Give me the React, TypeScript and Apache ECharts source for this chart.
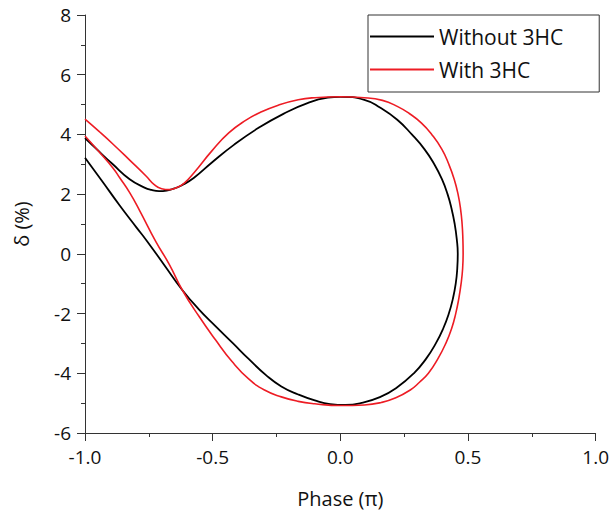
import React, { useEffect, useRef } from "react";
import * as echarts from "echarts";

const xTicks = [-1.0, -0.5, 0.0, 0.5, 1.0];
const yTicks = [-6, -4, -2, 0, 2, 4, 6, 8];
const seriesNames = ["Without 3HC", "With 3HC"];

// Without 3HC: upper-left branch -> top -> right -> bottom -> lower-left branch
const withoutPhase = [
  -1.0, -0.945, -0.891, -0.825, -0.767, -0.74, -0.71, -0.68, -0.65, -0.62, -0.573, -0.503, -0.417, -0.32, -0.223,
  -0.126, -0.049, 0.0, 0.094, 0.157, 0.223, 0.28, 0.33, 0.368, 0.398, 0.42, 0.436, 0.448, 0.456, 0.46, 0.458, 0.452,
  0.441, 0.425, 0.403, 0.374, 0.337, 0.288, 0.218, 0.155, 0.08, 0.02, -0.04, -0.1, -0.165, -0.231, -0.29, -0.359,
  -0.42, -0.489, -0.555, -0.619, -0.689, -0.759, -0.798, -0.864, -0.934, -1.0,
];
const withoutDelta = [
  3.88, 3.43, 3.0, 2.5, 2.22, 2.14, 2.1, 2.12, 2.19, 2.3, 2.55, 3.06, 3.65, 4.22, 4.69,
  5.06, 5.23, 5.26, 5.16, 4.89, 4.49, 4.0, 3.5, 3.0, 2.5, 2.0, 1.5, 1.0, 0.5, 0.0, -0.5, -1.0,
  -1.5, -2.0, -2.5, -3.0, -3.5, -4.0, -4.5, -4.8, -5.0, -5.06, -5.03, -4.91, -4.71, -4.44, -4.07, -3.52,
  -3.0, -2.42, -1.85, -1.21, -0.38, 0.45, 0.88, 1.62, 2.45, 3.22,
];

// With 3HC
const withPhase = [
  -1.0, -0.945, -0.891, -0.825, -0.76, -0.73, -0.7, -0.67, -0.64, -0.61, -0.573, -0.503, -0.437, -0.371, -0.313,
  -0.243, -0.165, -0.1, 0.0, 0.094, 0.165, 0.223, 0.27, 0.318, 0.358, 0.398, 0.425, 0.446, 0.461, 0.471, 0.477,
  0.48, 0.481, 0.479, 0.473, 0.464, 0.452, 0.436, 0.413, 0.383, 0.345, 0.31, 0.274, 0.215, 0.16, 0.094, 0.0, -0.1,
  -0.165, -0.231, -0.297, -0.359, -0.425, -0.489, -0.553, -0.619, -0.67, -0.722, -0.786, -0.825, -0.864, -0.89,
  -0.945, -1.0,
];
const withDelta = [
  4.51, 4.1, 3.68, 3.14, 2.6, 2.33, 2.18, 2.15, 2.22, 2.38, 2.72, 3.45, 4.05, 4.47, 4.74,
  4.98, 5.16, 5.23, 5.26, 5.23, 5.14, 4.94, 4.7, 4.38, 4.0, 3.5, 3.0, 2.5, 2.0, 1.5, 1.0,
  0.5, 0.0, -0.5, -1.0, -1.5, -2.0, -2.5, -3.0, -3.5, -4.0, -4.3, -4.56, -4.83, -4.98, -5.06, -5.08, -5.02,
  -4.94, -4.79, -4.56, -4.19, -3.6, -2.88, -2.1, -1.21, -0.35, 0.4, 1.45, 2.05, 2.55, 2.87,
  3.42, 3.95,
];

const FONT = "Open Sans";

function pairs(xs: number[], ys: number[]) {
  return xs.map((x, i) => [x, ys[i]]);
}

export default function App() {
  const ref = useRef<HTMLDivElement>(null);
  useEffect(() => {
    if (!ref.current) return;
    const chart = echarts.init(ref.current, null, { renderer: "svg" });
    const axisColor = "#333";
    chart.setOption({
      animation: false,
      backgroundColor: "#fff",
      grid: { left: 85, right: 12, top: 15, bottom: 81, containLabel: false },
      legend: {
        show: true,
        orient: "vertical",
        left: 368,
        top: 15,
        icon: "rect",
        itemWidth: 64,
        itemHeight: 2,
        itemGap: 12,
        padding: [11, 36, 12, 2],
        borderColor: axisColor,
        borderWidth: 1,
        backgroundColor: "#fff",
        data: seriesNames,
        textStyle: { fontFamily: FONT, fontSize: 21, color: "#111", lineHeight: 20 },
      },
      xAxis: {
        type: "value",
        min: xTicks[0],
        max: xTicks[xTicks.length - 1],
        interval: 0.5,
        name: "Phase (π)",
        nameLocation: "middle",
        nameGap: 55,
        nameTextStyle: { fontFamily: FONT, fontSize: 20, color: "#111" },
        axisLine: { show: true, onZero: false, lineStyle: { color: axisColor, width: 1 } },
        axisTick: { show: true, inside: false, length: 8, lineStyle: { color: axisColor } },
        minorTick: { show: true, splitNumber: 2, length: 4, lineStyle: { color: axisColor } },
        splitLine: { show: false },
        axisLabel: {
          fontFamily: FONT,
          fontSize: 19,
          color: "#111",
          margin: 14,
          formatter: (v: number) => v.toFixed(1),
        },
      },
      yAxis: {
        type: "value",
        min: yTicks[0],
        max: yTicks[yTicks.length - 1],
        interval: 2,
        name: "δ (%)",
        nameLocation: "middle",
        nameGap: 54,
        nameRotate: 90,
        nameTextStyle: { fontFamily: FONT, fontSize: 20, color: "#111" },
        axisLine: { show: true, onZero: false, lineStyle: { color: axisColor, width: 1 } },
        axisTick: { show: true, inside: false, length: 8, lineStyle: { color: axisColor } },
        minorTick: { show: true, splitNumber: 2, length: 4, lineStyle: { color: axisColor } },
        splitLine: { show: false },
        axisLabel: { fontFamily: FONT, fontSize: 19, color: "#111", margin: 14 },
      },
      series: [
        {
          name: seriesNames[0],
          type: "line",
          data: pairs(withoutPhase, withoutDelta),
          smooth: 0.5,
          symbol: "none",
          color: "#000",
          lineStyle: { color: "#000", width: 1.8 },
        },
        {
          name: seriesNames[1],
          type: "line",
          data: pairs(withPhase, withDelta),
          smooth: 0.5,
          symbol: "none",
          color: "#ed1c24",
          lineStyle: { color: "#ed1c24", width: 1.6 },
        },
      ],
    });
    return () => chart.dispose();
  }, []);
  return (
    <div
      ref={ref}
      style={{ position: "fixed", left: 0, top: 0, width: 612, height: 514, background: "#fff" }}
    />
  );
}
